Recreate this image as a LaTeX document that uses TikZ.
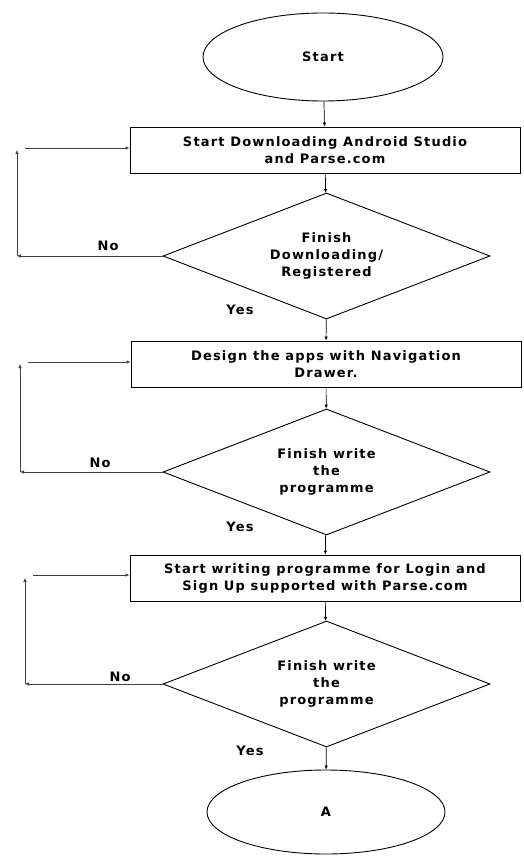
\documentclass[tikz,border=0pt]{standalone}
\usepackage{fontspec}
\setmainfont{DejaVu Sans}[LetterSpace=9]
\usetikzlibrary{shapes.geometric,arrows.meta}
\tikzset{
    every node/.style={font=\bfseries\fontsize{13}{17}\selectfont},
    terminal/.style={draw, ellipse, line width=0.9pt, minimum width=240pt, minimum height=88pt},
    process/.style={draw, rectangle, line width=0.9pt, minimum width=390pt, minimum height=46pt, align=center, inner sep=0pt},
    decision/.style={draw, diamond, line width=0.9pt, aspect=2.6, minimum width=327pt, minimum height=126pt, align=center, inner sep=0pt},
    flow/.style={-{Latex[length=4pt,width=3.5pt]}, line width=0.7pt},
    loop/.style={-{Latex[length=4pt,width=3.5pt]}, line width=0.6pt, black!75}
}
\begin{document}
\begin{tikzpicture}[x=1pt, y=-1pt]
        \useasboundingbox (0,0) rectangle (523,858);
        \node[terminal] (start) at (323, 57) {Start};
        \node[process] (down) at (325, 150) {Start Downloading  Android Studio\\and Parse.com};
        \node[decision] (regd) at (326.5, 256) {Finish\\Downloading/\\Registered};
        \node[process] (design) at (326, 364) {Design the apps with  Navigation\\Drawer.};
        \node[decision] (fin1) at (326.5, 472) {Finish write\\the\\programme};
        \node[process] (login) at (325, 578) {Start writing  programme for Login and\\Sign Up supported  with Parse.com};
        \node[decision] (fin2) at (326.5, 684) {Finish write\\the\\programme};
        \node[terminal, minimum width=238pt, minimum height=84pt] (A) at (326, 812) {A};
        \node (no1) at (108, 246) {No};
        \node (yes1) at (240, 310) {Yes};
        \node (no2) at (100, 463) {No};
        \node (yes2) at (240, 527) {Yes};
        \node (no3) at (120, 677) {No};
        \node (yes3) at (250, 751) {Yes};
        \coordinate (b1) at (17, 256);
        \coordinate (t1) at (17, 150);
        \coordinate (s1) at (25, 148);
        \coordinate (b2) at (20, 472);
        \coordinate (t2) at (20, 364);
        \coordinate (s2) at (28, 362);
        \coordinate (b3) at (25, 684);
        \coordinate (t3) at (25, 578);
        \coordinate (s3) at (33, 575);
        \path [flow] (start) edge (down);
        \path [flow] (down) edge (regd);
        \path [flow] (regd) edge (design);
        \path [flow] (design) edge (fin1);
        \path [flow] (fin1) edge (login);
        \path [flow] (login) edge (fin2);
        \path [flow] (fin2) edge (A);
        \path [loop] (regd.west) edge (b1);
        \path [loop] (b1) edge (t1);
        \path [loop] (s1) edge (down.west |- s1);
        \path [loop] (fin1.west) edge (b2);
        \path [loop] (b2) edge (t2);
        \path [loop] (s2) edge (design.west |- s2);
        \path [loop] (fin2.west) edge (b3);
        \path [loop] (b3) edge (t3);
        \path [loop] (s3) edge (login.west |- s3);
    \end{tikzpicture}
\end{document}
